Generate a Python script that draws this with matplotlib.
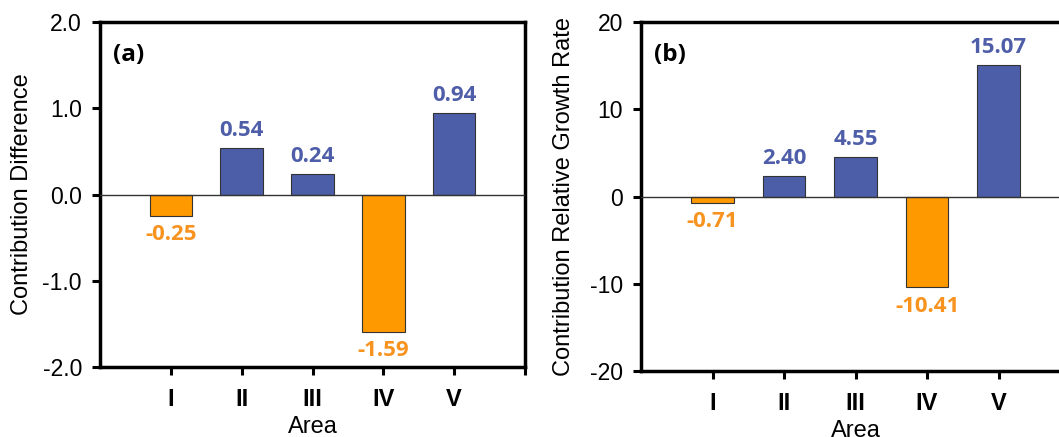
import matplotlib.pyplot as plt

# ── DATA ──────────────────────────────────────────────────────────────────────
AREAS = ["I", "II", "III", "IV", "V"]
DIFF = [-0.25, 0.54, 0.24, -1.59, 0.94]
GROWTH = [-0.71, 2.40, 4.55, -10.41, 15.07]

BLUE = "#4C5EA8"
ORANGE = "#FF9900"
TXT_BLUE = "#4F5EA8"
TXT_ORANGE = "#F7931E"

plt.rcParams['font.family'] = ['Liberation Sans', 'DejaVu Sans']

fig = plt.figure(figsize=(10.59, 4.37), dpi=100)
W, H = 1059, 437


def panel(rect_px, values, ylim, yticks, yfmt, ylabel, tag, ylab_x):
    l, t, r, b = rect_px
    ax = fig.add_axes([l / W, 1 - b / H, (r - l) / W, (b - t) / H])
    xs = list(range(1, len(values) + 1))
    colors = [BLUE if v >= 0 else ORANGE for v in values]
    ax.bar(xs, values, width=0.6, color=colors, edgecolor="#333333",
           linewidth=0.8, zorder=2)
    ax.axhline(0, color="#333333", linewidth=1.0, zorder=3)
    for x, v in zip(xs, values):
        pos = v >= 0
        ax.annotate(f"{v:.2f}", (x, v), xytext=(0, 5 if pos else -6),
                    textcoords="offset points", ha="center",
                    va="bottom" if pos else "top",
                    color=TXT_BLUE if pos else TXT_ORANGE,
                    fontsize=16, fontweight="bold", family="Open Sans")
    ax.set_xlim(0, 6)
    ax.set_ylim(*ylim)
    ax.set_xticks(xs + [6])
    ax.set_xticklabels(AREAS + [""], fontsize=17, fontweight="bold")
    ax.set_yticks(yticks)
    ax.set_yticklabels([yfmt.format(y) for y in yticks], fontsize=16.5)
    for s in ax.spines.values():
        s.set_linewidth(2.5)
    ax.tick_params(axis="both", direction="out", length=6, width=2.2)
    ax.tick_params(axis="y", pad=7)
    ax.tick_params(axis="x", pad=9)
    ax.set_xlabel("Area", fontsize=17, labelpad=4)
    ax.set_ylabel(ylabel, fontsize=17)
    ax.yaxis.set_label_coords((ylab_x - l) / (r - l), 0.5)
    ax.text(0.03, 0.94, tag, transform=ax.transAxes, fontsize=17.5,
            fontweight="bold", va="top", ha="left", family="Open Sans")
    return ax


panel((100, 22, 525, 367), DIFF, (-2.0, 2.0), [-2.0, -1.0, 0.0, 1.0, 2.0],
      "{:.1f}", "Contribution Difference", "(a)", 33)
panel((641, 22, 1070, 371), GROWTH, (-20, 20), [-20, -10, 0, 10, 20],
      "{:.0f}", "Contribution Relative Growth Rate", "(b)", 575)

fig.savefig("out.png", dpi=100)
